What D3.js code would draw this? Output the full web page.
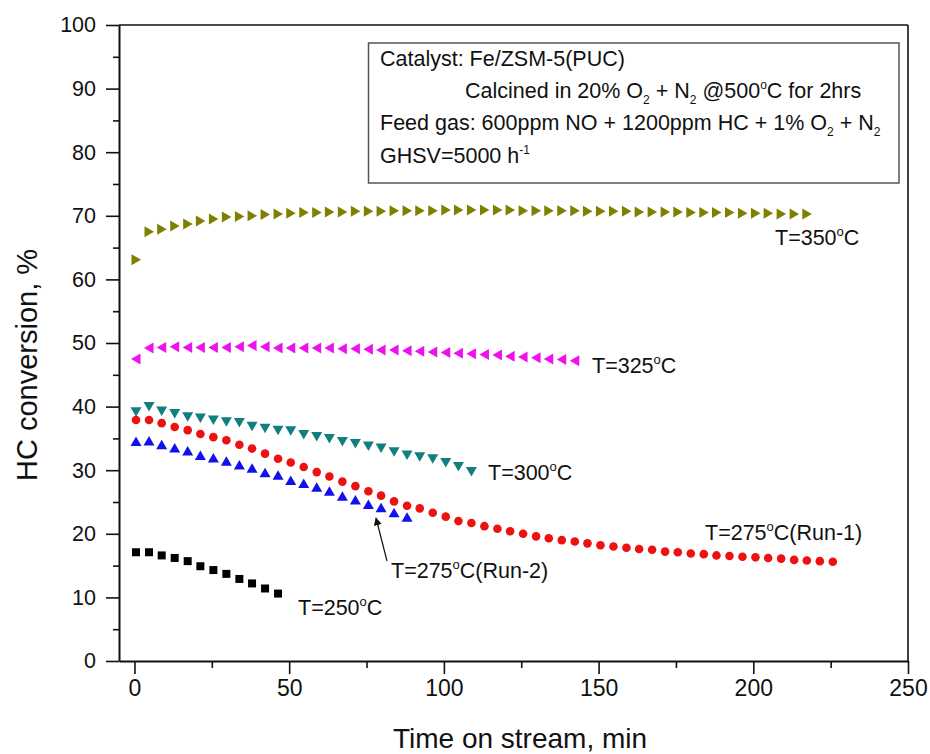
<!DOCTYPE html>
<html>
<head>
<meta charset="utf-8">
<script src="https://cdn.jsdelivr.net/npm/d3@7/dist/d3.min.js"></script>
<style>
  html, body { margin: 0; padding: 0; background: #fff; }
  svg { display: block; }
  text { font-family: "Liberation Sans", Arial, sans-serif; fill: #111; }
</style>
</head>
<body>
<svg id="chart" width="930" height="754"></svg>
<script>
// ---- data ----
const times = [0.5, 4.7, 8.8, 13.0, 17.2, 21.3, 25.5, 29.7, 33.9, 38.0, 42.2, 46.4, 50.5, 54.7, 58.9, 63.0, 67.2, 71.4, 75.6, 79.7, 83.9, 88.1, 92.2, 96.4, 100.6, 104.7, 108.9, 113.1, 117.3, 121.4, 125.6, 129.8, 133.9, 138.1, 142.3, 146.4, 150.6, 154.8, 159.0, 163.1, 167.3, 171.5, 175.6, 179.8, 184.0, 188.1, 192.3, 196.5, 200.7, 204.8, 209.0, 213.2, 217.3, 221.5, 225.7];

const conv350 = [63.1, 67.5, 67.9, 68.4, 68.7, 69.2, 69.5, 69.8, 69.9, 70.0, 70.2, 70.3, 70.4, 70.5, 70.5, 70.6, 70.6, 70.7, 70.7, 70.7, 70.8, 70.8, 70.8, 70.8, 70.9, 70.9, 70.9, 70.9, 70.9, 70.9, 70.8, 70.8, 70.8, 70.8, 70.8, 70.7, 70.7, 70.7, 70.7, 70.6, 70.6, 70.6, 70.6, 70.5, 70.5, 70.5, 70.5, 70.4, 70.4, 70.4, 70.3, 70.3, 70.3];
const conv325 = [47.5, 49.2, 49.3, 49.4, 49.3, 49.3, 49.3, 49.3, 49.4, 49.6, 49.4, 49.2, 49.2, 49.2, 49.2, 49.2, 49.1, 49.1, 49.0, 48.9, 48.9, 48.8, 48.7, 48.6, 48.5, 48.4, 48.3, 48.2, 48.1, 47.9, 47.8, 47.7, 47.5, 47.4, 47.2];
const conv300 = [39.2, 40.0, 39.3, 38.9, 38.4, 38.2, 37.9, 37.6, 37.5, 36.9, 36.6, 36.3, 36.2, 35.6, 35.3, 35.0, 34.5, 34.2, 33.8, 33.5, 32.9, 32.4, 32.1, 31.8, 31.2, 30.6, 29.8];
const conv275run1 = [37.9, 37.9, 37.4, 36.8, 36.3, 35.7, 35.2, 34.7, 34.0, 33.4, 32.6, 31.8, 31.2, 30.5, 29.7, 29.0, 28.2, 27.5, 26.7, 26.0, 25.1, 24.4, 24.0, 23.3, 22.7, 22.0, 21.7, 21.2, 20.8, 20.4, 20.0, 19.6, 19.3, 19.0, 18.8, 18.5, 18.2, 18.0, 17.8, 17.6, 17.5, 17.2, 17.1, 16.9, 16.8, 16.6, 16.5, 16.4, 16.3, 16.2, 16.1, 15.9, 15.8, 15.7, 15.6];
const conv275run2 = [34.5, 34.6, 34.0, 33.5, 33.0, 32.3, 31.9, 31.4, 30.8, 30.3, 29.6, 29.2, 28.4, 27.9, 27.3, 26.7, 25.9, 25.3, 24.6, 24.1, 23.3, 22.6];
const conv250 = [17.1, 17.1, 16.6, 16.2, 15.7, 14.9, 14.3, 13.7, 12.9, 12.2, 11.4, 10.6];

const xMajorTicks = [0, 50, 100, 150, 200, 250];
const xMinorTicks = [25, 75, 125, 175, 225];
const yMajorTicks = [0, 10, 20, 30, 40, 50, 60, 70, 80, 90, 100];
const yMinorTicks = [5, 15, 25, 35, 45, 55, 65, 75, 85, 95];

// ---- chart ----
const svg = d3.select("#chart");
const x = d3.scaleLinear().domain([-5, 250]).range([119, 908]);
const y = d3.scaleLinear().domain([0, 100]).range([661, 25]);

// frame (top & right)
svg.append("line").attr("x1", x(-5)).attr("x2", x(250)).attr("y1", y(100)).attr("y2", y(100))
  .attr("stroke", "#111").attr("stroke-width", 1.6);
svg.append("line").attr("x1", x(250)).attr("x2", x(250)).attr("y1", y(100)).attr("y2", y(0))
  .attr("stroke", "#111").attr("stroke-width", 1.6);

// axes
function styleAxis(g) {
  g.selectAll("path.domain").attr("stroke", "#111").attr("stroke-width", 2);
  g.selectAll(".tick line").attr("stroke", "#111").attr("stroke-width", 1.6);
}
const gx = svg.append("g").attr("transform", `translate(0,${y(0)})`)
  .call(d3.axisBottom(x).tickValues(xMajorTicks).tickSize(13).tickSizeOuter(0).tickPadding(6).tickFormat(d3.format("d")));
gx.selectAll(".tick text").attr("font-size", 23).attr("font-family", "Liberation Sans, Arial, sans-serif").attr("fill", "#111");
styleAxis(gx);
const gxm = svg.append("g").attr("transform", `translate(0,${y(0)})`)
  .call(d3.axisBottom(x).tickValues(xMinorTicks).tickSize(7).tickSizeOuter(0).tickFormat(""));
gxm.select("path.domain").remove();
styleAxis(gxm);

const gy = svg.append("g").attr("transform", `translate(${x(-5)},0)`)
  .call(d3.axisLeft(y).tickValues(yMajorTicks).tickSize(13).tickSizeOuter(0).tickPadding(10).tickFormat(d3.format("d")));
gy.selectAll(".tick text").attr("font-size", 21.5).attr("font-family", "Liberation Sans, Arial, sans-serif").attr("fill", "#111");
styleAxis(gy);
const gym = svg.append("g").attr("transform", `translate(${x(-5)},0)`)
  .call(d3.axisLeft(y).tickValues(yMinorTicks).tickSize(6).tickSizeOuter(0).tickFormat(""));
gym.select("path.domain").remove();
styleAxis(gym);

// axis titles
svg.append("text").attr("x", 520).attr("y", 748).attr("text-anchor", "middle")
  .attr("font-size", 28).text("Time on stream, min");
svg.append("text").attr("transform", "translate(37,365) rotate(-90)").attr("text-anchor", "middle")
  .attr("font-size", 29).text("HC conversion, %");

// marker shapes
function shapePath(kind) {
  switch (kind) {
    case "square": return "M-4,-4H4V4H-4Z";
    case "up": return "M0,-5L5.5,4.5L-5.5,4.5Z";
    case "down": return "M0,5L5.5,-4.5L-5.5,-4.5Z";
    case "left": return "M-5,0L4.5,-5.5L4.5,5.5Z";
    case "right": return "M5,0L-4.5,-5.5L-4.5,5.5Z";
  }
}
const series = [
  { values: conv350, color: "#7f7f00", kind: "right" },
  { values: conv325, color: "#ee11ee", kind: "left" },
  { values: conv300, color: "#127f7f", kind: "down" },
  { values: conv275run1, color: "#ee1111", kind: "circle" },
  { values: conv275run2, color: "#1111ee", kind: "up" },
  { values: conv250, color: "#000000", kind: "square" }
];
series.forEach(s => {
  const pts = s.values.map((v, i) => ({ t: times[i], v }));
  const g = svg.append("g");
  if (s.kind === "circle") {
    g.selectAll("circle").data(pts).join("circle")
      .attr("cx", d => x(d.t)).attr("cy", d => y(d.v)).attr("r", 4.3).attr("fill", s.color);
  } else {
    g.selectAll("path").data(pts).join("path")
      .attr("transform", d => `translate(${x(d.t)},${y(d.v)})`)
      .attr("d", shapePath(s.kind)).attr("fill", s.color);
  }
});

// series labels with superscript "o"
function degLabel(px, py, pre, post) {
  const t = svg.append("text").attr("x", px).attr("y", py).attr("font-size", 21.5);
  t.append("tspan").text(pre);
  t.append("tspan").attr("dy", -9).attr("font-size", 13).text("o");
  t.append("tspan").attr("dy", 9).text(post);
}
degLabel(775, 245, "T=350", "C");
degLabel(592, 373, "T=325", "C");
degLabel(488, 480, "T=300", "C");
degLabel(705, 540, "T=275", "C(Run-1)");
degLabel(391, 578, "T=275", "C(Run-2)");
degLabel(298, 615, "T=250", "C");

// arrow
svg.append("defs").append("marker").attr("id", "ah").attr("viewBox", "0 0 10 10")
  .attr("refX", 9).attr("refY", 5).attr("markerWidth", 8).attr("markerHeight", 12)
  .attr("markerUnits", "userSpaceOnUse").attr("orient", "auto")
  .append("path").attr("d", "M0,0L10,5L0,10Z").attr("fill", "#111");
svg.append("line").attr("x1", 387).attr("y1", 561).attr("x2", 376).attr("y2", 518)
  .attr("stroke", "#111").attr("stroke-width", 1.2).attr("marker-end", "url(#ah)");

// info box
svg.append("rect").attr("x", 368.5).attr("y", 43).attr("width", 530.5).attr("height", 140)
  .attr("fill", "#fff").attr("stroke", "#555").attr("stroke-width", 1.5);
function richLine(px, py, parts) {
  const t = svg.append("text").attr("x", px).attr("y", py).attr("font-size", 21.5);
  let shift = 0;
  parts.forEach(p => {
    const target = p[1] === "sub" ? 6 : p[1] === "sup" ? -9 : 0;
    const sp = t.append("tspan").attr("dy", target - shift).text(p[0]);
    if (p[1]) sp.attr("font-size", 12);
    shift = target;
  });
}
richLine(380, 66, [["Catalyst: Fe/ZSM-5(PUC)"]]);
richLine(465, 98, [["Calcined in 20% O"], ["2", "sub"], [" + N"], ["2", "sub"], [" @500"], ["o", "sup"], ["C for 2hrs"]]);
richLine(380, 130, [["Feed gas: 600ppm NO + 1200ppm HC + 1% O"], ["2", "sub"], [" + N"], ["2", "sub"]]);
richLine(380, 163, [["GHSV=5000 h"], ["-1", "sup"]]);
</script>
</body>
</html>
